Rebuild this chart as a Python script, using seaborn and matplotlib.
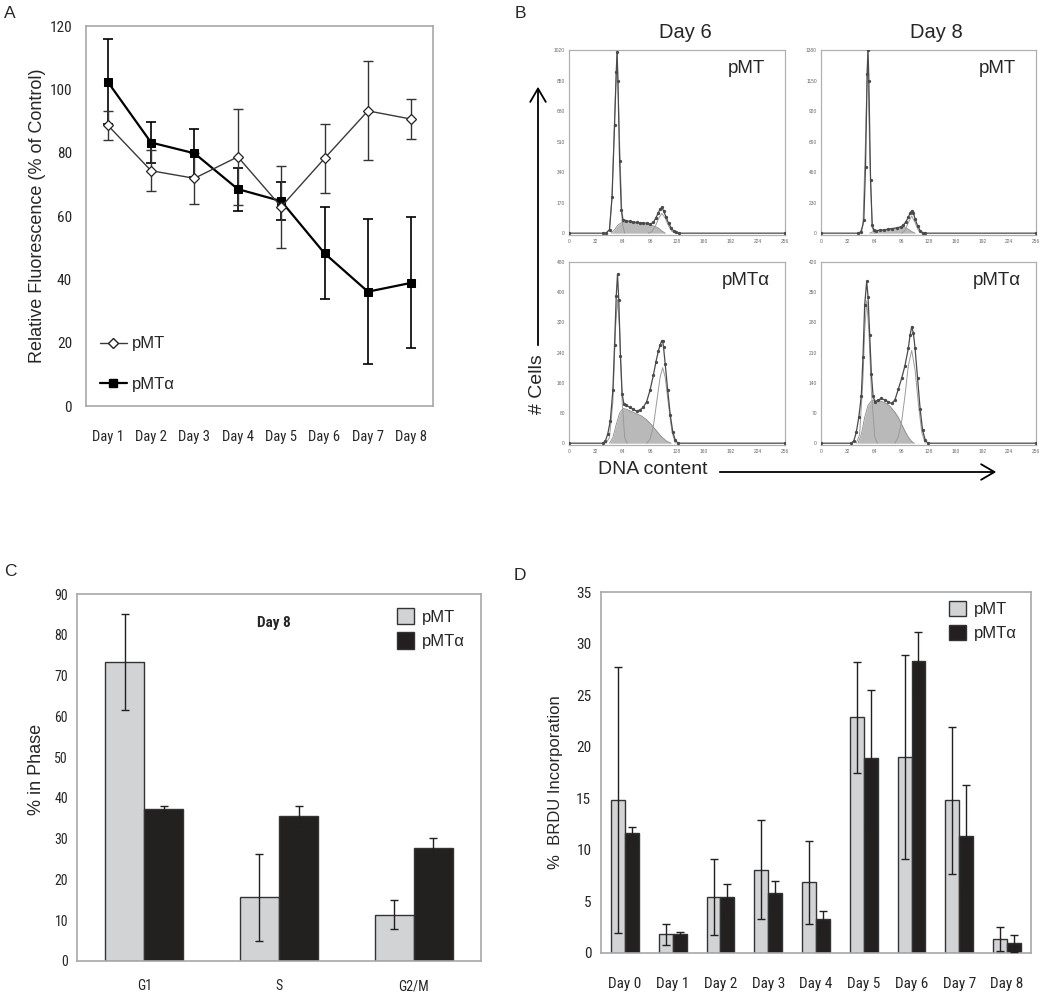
import numpy as np
import pandas as pd
import matplotlib
matplotlib.use("Agg")
import matplotlib.pyplot as plt
import seaborn as sns
from matplotlib import font_manager as fm
from matplotlib.patches import Patch, FancyArrowPatch
from matplotlib.lines import Line2D

# =========================================================
# Data
# =========================================================

# Panel A - relative fluorescence
days_a = ["Day 1", "Day 2", "Day 3", "Day 4", "Day 5", "Day 6", "Day 7", "Day 8"]
pmt_a = [88.7, 74.3, 71.9, 78.7, 62.9, 78.2, 93.2, 90.6]
pmt_a_err = [4.6, 6.4, 8.0, 15.2, 13.0, 11.0, 15.6, 6.4]
pmta_a = [102.4, 83.2, 79.8, 68.5, 64.7, 48.2, 36.1, 38.9]
pmta_a_err = [13.4, 6.5, 7.6, 6.8, 6.0, 14.5, 22.8, 20.7]

# Panel B - DNA content histograms (channel, count)
d6_pmt_x = [0, 40, 44, 48, 51, 54, 56, 57, 58, 60, 62, 64, 68, 72, 76, 80, 84, 88, 92, 96,
            100, 103, 106, 108, 110, 112, 115, 118, 121, 124, 127, 130, 256]
d6_pmt_y = [0, 0, 0, 20, 200, 600, 900, 1010, 850, 400, 130, 75, 70, 65, 62, 60, 58, 57, 55, 50,
            60, 85, 115, 135, 143, 125, 90, 55, 30, 12, 4, 0, 0]
d6_pmt_sx = [50, 54, 58, 62, 66, 72, 80, 88, 96, 102, 106, 110, 114]
d6_pmt_sy = [0, 20, 45, 58, 60, 57, 54, 50, 45, 38, 28, 12, 0]
d6_pmt_g1x = [44, 48, 51, 54, 57, 60, 63, 66]
d6_pmt_g1y = [0, 20, 200, 650, 1000, 500, 60, 0]
d6_pmt_g2x = [94, 98, 102, 106, 110, 114, 118, 122, 126]
d6_pmt_g2y = [0, 8, 35, 80, 110, 85, 40, 10, 0]

d8_pmt_x = [0, 44, 48, 51, 53, 55, 56, 57, 59, 61, 63, 66, 70, 75, 80, 85, 90, 95, 98, 101,
            104, 106, 108, 110, 112, 115, 118, 121, 124, 256]
d8_pmt_y = [0, 0, 10, 100, 500, 1200, 1380, 1150, 400, 60, 22, 20, 22, 25, 30, 35, 40, 48, 60, 85,
            120, 150, 168, 150, 110, 55, 20, 5, 0, 0]
d8_pmt_sx = [58, 62, 70, 80, 90, 96, 100, 104, 108, 112]
d8_pmt_sy = [0, 12, 18, 25, 33, 40, 42, 30, 12, 0]
d8_pmt_g1x = [46, 50, 53, 55.5, 58, 61, 64]
d8_pmt_g1y = [0, 60, 700, 1370, 600, 40, 0]
d8_pmt_g2x = [96, 100, 104, 108, 112, 116, 120]
d8_pmt_g2y = [0, 20, 80, 130, 80, 20, 0]

d6_pmta_x = [0, 40, 43, 46, 49, 52, 54, 56, 57.5, 59, 61, 63, 65, 68, 72, 76, 80, 84, 88, 92,
             96, 100, 103, 106, 108, 110, 111, 112, 114, 117, 120, 123, 126, 129, 256]
d6_pmta_y = [0, 0, 5, 25, 60, 140, 260, 390, 448, 380, 230, 130, 105, 100, 95, 90, 85, 88, 95, 110,
             140, 180, 215, 245, 260, 272, 270, 255, 210, 140, 75, 30, 8, 0, 0]
d6_pmta_sx = [48, 52, 56, 60, 64, 68, 74, 80, 86, 92, 98, 104, 110, 116, 121]
d6_pmta_sy = [0, 15, 50, 80, 92, 90, 84, 78, 72, 62, 48, 32, 16, 5, 0]
d6_pmta_g1x = [44, 48, 52, 55, 57.5, 60, 63, 66, 69]
d6_pmta_g1y = [0, 15, 110, 300, 380, 300, 110, 15, 0]
d6_pmta_g2x = [92, 96, 100, 104, 108, 111, 114, 118, 122, 126]
d6_pmta_g2y = [0, 10, 45, 110, 175, 200, 175, 100, 30, 0]

d8_pmta_x = [0, 36, 39, 42, 45, 48, 50, 52, 54.4, 56, 58, 60, 62, 64, 68, 72, 76, 80, 84, 88,
             92, 96, 100, 104, 106, 108, 110, 112, 115, 118, 121, 124, 127, 256]
d8_pmta_y = [0, 0, 5, 25, 60, 110, 200, 320, 375, 340, 250, 160, 110, 96, 100, 104, 100, 96, 92, 100,
             125, 150, 180, 220, 250, 270, 255, 220, 150, 80, 30, 8, 0, 0]
d8_pmta_sx = [44, 48, 52, 56, 60, 64, 70, 76, 82, 88, 92, 96, 100, 104, 108, 111]
d8_pmta_sy = [0, 20, 60, 88, 98, 100, 98, 94, 86, 72, 60, 44, 28, 14, 4, 0]
d8_pmta_g1x = [42, 46, 50, 52, 54.4, 57, 60, 64, 67]
d8_pmta_g1y = [0, 20, 150, 260, 330, 260, 120, 15, 0]
d8_pmta_g2x = [88, 92, 96, 100, 104, 108, 112, 116, 120, 124]
d8_pmta_g2y = [0, 15, 50, 110, 180, 215, 170, 90, 25, 0]

# Panel C - % in phase, day 8
phases = ["G1", "S", "G2/M"]
pmt_c = [73.4, 15.6, 11.4]
pmt_c_err = [11.8, 10.6, 3.6]
pmta_c = [37.3, 35.6, 27.8]
pmta_c_err = [0.7, 2.4, 2.4]

# Panel D - BRDU incorporation
days_d = ["Day 0", "Day 1", "Day 2", "Day 3", "Day 4", "Day 5", "Day 6", "Day 7", "Day 8"]
pmt_d = [14.8, 1.8, 5.4, 8.05, 6.85, 22.85, 19.0, 14.8, 1.36]
pmt_d_err = [12.9, 1.0, 3.7, 4.8, 4.0, 5.4, 9.9, 7.1, 1.2]
pmta_d = [11.6, 1.8, 5.4, 5.8, 3.3, 18.9, 28.35, 11.3, 0.94]
pmta_d_err = [0.6, 0.26, 1.3, 1.2, 0.74, 6.6, 2.8, 5.0, 0.84]

# =========================================================
# Style
# =========================================================
sns.set_style("white")
plt.rcParams['font.family'] = ['Liberation Sans', 'DejaVu Sans']
GRAY = "#d1d3d4"
BLACK = "#231f20"
FRAME = "#a8a8a8"

# look for a condensed face for the tick labels (the original uses Arial Narrow)
_fonts = [(f.name, f.stretch) for f in fm.fontManager.ttflist]
_names = {n for n, _ in _fonts}
NARROW = None
for fam in ["Liberation Sans Narrow", "Arial Narrow", "Noto Sans Condensed",
            "Roboto Condensed", "Open Sans Condensed", "DejaVu Sans Condensed"]:
    if fam in _names:
        NARROW = dict(family=fam)
        break
if NARROW is None:
    for n, st in _fonts:
        if n in ("Noto Sans", "DejaVu Sans", "Open Sans") and st in ("condensed", "semi-condensed"):
            NARROW = dict(family=n, stretch=st)
            break
HAVE_NARROW = NARROW is not None
if NARROW is None:
    NARROW = dict(family="Liberation Sans")


def nfont(size, weight="normal"):
    return fm.FontProperties(size=size if HAVE_NARROW else size * 0.9, weight=weight, **NARROW)


def style_ticks(ax, xsize, ysize):
    for lab in ax.get_xticklabels():
        lab.set_fontproperties(nfont(xsize))
    for lab in ax.get_yticklabels():
        lab.set_fontproperties(nfont(ysize))


W, H = 1050, 994
fig = plt.figure(figsize=(W / 100, H / 100), dpi=100)


def px_axes(l, t, r, b):
    return fig.add_axes([l / W, 1 - b / H, (r - l) / W, (b - t) / H])


def ftext(x, y, s, **kw):
    fig.text(x / W, 1 - y / H, s, ha="center", va="center", **kw)


def frame(ax, color=FRAME, lw=1.2):
    for sp in ax.spines.values():
        sp.set_visible(True)
        sp.set_color(color)
        sp.set_linewidth(lw)


# =========================================================
# Panel A
# =========================================================
ax = px_axes(86, 26, 433, 406)
x_a = np.arange(len(days_a))

sns.lineplot(x=x_a, y=pmta_a, ax=ax, color="black", lw=1.6, marker="s", markersize=5.5,
             markeredgecolor="black", zorder=3)
ax.errorbar(x_a, pmta_a, yerr=pmta_a_err, fmt="none", ecolor="black", elinewidth=1.2,
            capsize=3.5, capthick=1.2, zorder=2)
sns.lineplot(x=x_a, y=pmt_a, ax=ax, color="#3a3a3a", lw=1.0, marker="D", markersize=5,
             markerfacecolor="white", markeredgecolor="#222222", markeredgewidth=0.9, zorder=4)
ax.errorbar(x_a, pmt_a, yerr=pmt_a_err, fmt="none", ecolor="#333333", elinewidth=1.0,
            capsize=3.5, capthick=1.0, zorder=2)

ax.set_xlim(-0.5, len(days_a) - 0.5)
ax.set_ylim(0, 120)
ax.set_yticks(range(0, 121, 20))
ax.set_xticks(x_a, days_a)
ax.set_xticks(np.arange(-0.5, len(days_a)), minor=True)
ax.tick_params(axis="x", which="major", length=0, pad=17)
ax.tick_params(axis="x", which="minor", length=7, color="#cccccc", width=0.8)
ax.tick_params(axis="y", length=0, pad=10)
style_ticks(ax, 10.5, 11)
frame(ax)
ax.set_xlabel("")
ax.set_ylabel("Relative Fluorescence (% of Control)", fontsize=13)
ax.yaxis.set_label_coords(-0.115, 0.5)

handles_a = [
    Line2D([], [], color="#3a3a3a", lw=1.0, marker="D", markersize=5, markerfacecolor="white",
           markeredgecolor="#222222"),
    Line2D([], [], color="black", lw=1.6, marker="s", markersize=5.5),
]
ax.legend(handles_a, ["pMT", "pMTα"], loc="upper left", bbox_to_anchor=(0.04, 0.183),
          frameon=False, fontsize=12, handlelength=1.6, handletextpad=0.3,
          labelspacing=1.55, borderpad=0, borderaxespad=0)

# =========================================================
# Panel B - flow cytometry histograms
# =========================================================


def draw_hist(ax, mx, my, sx, sy, g1x, g1y, g2x, g2y, ymax, label):
    ax.fill_between(sx, sy, color="#b9b9b9", lw=0, zorder=1)
    ax.plot(sx, sy, color="#8a8a8a", lw=0.6, zorder=2)
    ax.plot(g1x, g1y, color="#9a9a9a", lw=0.7, zorder=2)
    ax.plot(g2x, g2y, color="#9a9a9a", lw=0.7, zorder=2)
    sns.lineplot(x=mx, y=my, ax=ax, sort=False, color="#4a4a4a", lw=0.9, marker="o",
                 markersize=1.6, markeredgecolor="#4a4a4a", zorder=3)
    ax.set_xlim(0, 256)
    ax.set_ylim(-ymax * 0.01, ymax)
    ax.set_xticks(range(0, 257, 32))
    ax.set_yticks(np.linspace(0, ymax, 7).round().astype(int))
    ax.tick_params(length=1.5, width=0.5, color="#888888", pad=1.5, labelsize=3.5,
                   labelcolor="#666666")
    frame(ax, color="#b0b0b0", lw=0.9)
    ax.text(0.82, 0.9, label, transform=ax.transAxes, ha="center", va="center", fontsize=13.5)


ax = px_axes(569, 50, 785, 235)
draw_hist(ax, d6_pmt_x, d6_pmt_y, d6_pmt_sx, d6_pmt_sy, d6_pmt_g1x, d6_pmt_g1y,
          d6_pmt_g2x, d6_pmt_g2y, 1020, "pMT")
ax = px_axes(821, 50, 1036, 235)
draw_hist(ax, d8_pmt_x, d8_pmt_y, d8_pmt_sx, d8_pmt_sy, d8_pmt_g1x, d8_pmt_g1y,
          d8_pmt_g2x, d8_pmt_g2y, 1380, "pMT")
ax = px_axes(569, 262, 785, 445)
draw_hist(ax, d6_pmta_x, d6_pmta_y, d6_pmta_sx, d6_pmta_sy, d6_pmta_g1x, d6_pmta_g1y,
          d6_pmta_g2x, d6_pmta_g2y, 480, "pMTα")
ax = px_axes(821, 262, 1036, 445)
draw_hist(ax, d8_pmta_x, d8_pmta_y, d8_pmta_sx, d8_pmta_sy, d8_pmta_g1x, d8_pmta_g1y,
          d8_pmta_g2x, d8_pmta_g2y, 420, "pMTα")

ftext(685, 33, "Day 6", fontsize=14.5)
ftext(936, 33, "Day 8", fontsize=14.5)
ftext(538, 384, "# Cells", fontsize=14, rotation=90)
ftext(653, 470, "DNA content", fontsize=14)
fig.add_artist(FancyArrowPatch((538 / W, 1 - 348 / H), (538 / W, 1 - 84 / H),
                               transform=fig.transFigure, arrowstyle="->,head_length=0.6,head_width=0.35",
                               mutation_scale=16, lw=1.3, color="black"))
fig.add_artist(FancyArrowPatch((717 / W, 1 - 472 / H), (999 / W, 1 - 472 / H),
                               transform=fig.transFigure, arrowstyle="->,head_length=0.6,head_width=0.35",
                               mutation_scale=16, lw=1.3, color="black"))

# =========================================================
# Bar panels (C and D)
# =========================================================


def bar_panel(ax, cats, v1, e1, v2, e2):
    df = pd.DataFrame({
        "cat": cats * 2,
        "value": v1 + v2,
        "construct": ["pMT"] * len(cats) + ["pMTα"] * len(cats),
    })
    sns.barplot(data=df, x="cat", y="value", hue="construct", palette=[GRAY, BLACK],
                errorbar=None, width=0.58, gap=0, edgecolor="#333333", linewidth=1,
                legend=False, ax=ax)
    for cont, errs in zip(ax.containers, [e1, e2]):
        xs = [b.get_x() + b.get_width() / 2 for b in cont]
        ys = [b.get_height() for b in cont]
        ax.errorbar(xs, ys, yerr=errs, fmt="none", ecolor=BLACK, elinewidth=1.0,
                    capsize=3.2, capthick=1.0, zorder=5)
    ax.set_xlim(-0.5, len(cats) - 0.5)
    ax.set_xticks(np.arange(-0.5, len(cats)), minor=True)
    ax.tick_params(axis="x", which="minor", length=6, color="#dddddd", width=0.8)
    ax.set_xlabel("")
    frame(ax)
    leg = [Patch(facecolor=GRAY, edgecolor="#333333"), Patch(facecolor=BLACK, edgecolor="#333333")]
    return leg


# Panel C
ax = px_axes(77, 594, 481, 961)
leg = bar_panel(ax, phases, pmt_c, pmt_c_err, pmta_c, pmta_c_err)
ax.set_ylim(0, 90)
ax.set_yticks(range(0, 91, 10))
ax.tick_params(axis="x", which="major", length=0, pad=13)
ax.tick_params(axis="y", length=0, pad=6.5)
style_ticks(ax, 10, 10)
ax.set_ylabel("% in Phase", fontsize=13)
ax.yaxis.set_label_coords(-0.079, 0.523)
ax.text(0.488, 0.921, "Day 8", transform=ax.transAxes, ha="center", va="center",
        fontproperties=nfont(11, "bold"))
ax.legend(leg, ["pMT", "pMTα"], loc="upper left", bbox_to_anchor=(0.792, 0.962),
          frameon=False, fontsize=12, handlelength=1.0, handleheight=1.15,
          handletextpad=0.5, labelspacing=0.45, borderpad=0, borderaxespad=0)

# Panel D
ax = px_axes(601, 592, 1031, 953)
leg = bar_panel(ax, days_d, pmt_d, pmt_d_err, pmta_d, pmta_d_err)
ax.set_ylim(0, 35)
ax.set_yticks(range(0, 36, 5))
ax.tick_params(axis="x", which="major", length=0, pad=17)
ax.tick_params(axis="y", length=0, pad=7)
style_ticks(ax, 11, 11)
ax.set_ylabel("%  BRDU Incorporation", fontsize=12)
ax.yaxis.set_label_coords(-0.088, 0.474)
ax.legend(leg, ["pMT", "pMTα"], loc="upper left", bbox_to_anchor=(0.809, 0.975),
          frameon=False, fontsize=12, handlelength=1.0, handleheight=1.05,
          handletextpad=0.5, labelspacing=0.45, borderpad=0, borderaxespad=0)

# Panel letters
ftext(10, 13, "A", fontsize=12.5)
ftext(520, 13, "B", fontsize=12.5)
ftext(10, 572, "C", fontsize=12.5)
ftext(520, 576, "D", fontsize=12.5)

fig.savefig("out.png", dpi=100)
